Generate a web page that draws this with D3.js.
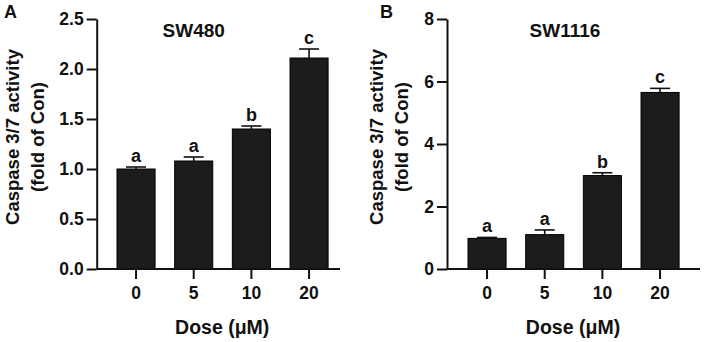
<!DOCTYPE html>
<html>
<head>
<meta charset="utf-8">
<script src="https://cdn.jsdelivr.net/npm/d3@7"></script>
<style>
  body { margin: 0; background: #fff; }
  svg text { font-family: "Liberation Sans", Arial, sans-serif; font-weight: bold; fill: #111; }
  .axis path, .axis line { stroke: #111; stroke-width: 2; }
</style>
</head>
<body>
<svg id="chart" width="706" height="342"></svg>
<script>
const doses = ["0", "5", "10", "20"];
const letters = ["a", "a", "b", "c"];

const sw480Mean = [1.00, 1.08, 1.40, 2.11];
const sw480Err = [0.02, 0.04, 0.03, 0.09];
const sw480Ticks = [0, 0.5, 1.0, 1.5, 2.0, 2.5];

const sw1116Mean = [0.98, 1.10, 2.99, 5.65];
const sw1116Err = [0.03, 0.15, 0.09, 0.13];
const sw1116Ticks = [0, 2, 4, 6, 8];

const svg = d3.select("#chart");

// one panel per cell line
function drawPanel(p) {
	let g = svg.append("g");

	let y = d3.scaleLinear().domain([0, p.yMax]).range([269, 19]);
	let x = d3.scaleBand().domain(doses)
		.range([p.x0, p.x1])
		.paddingInner(0.34)
		.paddingOuter(0.17);

	// bars
	g.selectAll(".bar")
		.data(p.mean)
		.enter()
		.append("rect")
		.attr("class", "bar")
		.attr("x", (d, i) => x(doses[i]))
		.attr("y", d => y(d))
		.attr("width", x.bandwidth())
		.attr("height", d => y(0) - y(d))
		.attr("fill", "#1c1c1c")
		.attr("stroke", "#000")
		.attr("stroke-width", 1);

	// error bars (upper only)
	let capW = 20;
	let err = g.selectAll(".err")
		.data(p.mean)
		.enter()
		.append("g")
		.attr("class", "err")
		.attr("transform", (d, i) => `translate(${x(doses[i]) + x.bandwidth() / 2},0)`);
	err.append("line")
		.attr("y1", d => y(d))
		.attr("y2", (d, i) => y(d + p.err[i]))
		.attr("stroke", "#111").attr("stroke-width", 1.6);
	err.append("line")
		.attr("x1", -capW / 2).attr("x2", capW / 2)
		.attr("y1", (d, i) => y(d + p.err[i]))
		.attr("y2", (d, i) => y(d + p.err[i]))
		.attr("stroke", "#111").attr("stroke-width", 1.6);
	// significance letters
	err.append("text")
		.attr("y", (d, i) => y(d + p.err[i]) - 5)
		.attr("text-anchor", "middle")
		.style("font-size", "18px")
		.text((d, i) => letters[i]);

	// y axis
	g.append("g")
		.attr("class", "axis")
		.attr("transform", `translate(${p.axisX},0)`)
		.call(d3.axisLeft(y).tickValues(p.ticks).tickFormat(p.fmt)
			.tickSize(10).tickSizeOuter(0).tickPadding(3))
		.call(a => a.selectAll("text").style("font-size", "17.5px").attr("fill", "#111"));

	// x axis
	let xAxis = g.append("g")
		.attr("class", "axis")
		.attr("transform", "translate(0,269)")
		.call(d3.axisBottom(x).tickSize(10).tickSizeOuter(0).tickPadding(8));
	xAxis.select(".domain").remove();
	xAxis.selectAll("text").style("font-size", "17.5px").attr("fill", "#111");
	g.append("line")
		.attr("x1", p.axisX).attr("x2", p.axisEnd)
		.attr("y1", 269).attr("y2", 269)
		.attr("stroke", "#111").attr("stroke-width", 2);

	// labels
	g.append("text")
		.attr("x", p.axisX + p.titleDx).attr("y", 37)
		.attr("text-anchor", "middle")
		.style("font-size", "19px")
		.text(p.title);

	g.append("text")
		.attr("x", p.letterX).attr("y", 18)
		.style("font-size", "18px")
		.text(p.letter);

	let yl = g.append("text")
		.attr("transform", `translate(${p.axisX + p.ylabDx},137) rotate(-90)`)
		.attr("text-anchor", "middle")
		.style("font-size", "18.5px");
	yl.append("tspan").attr("x", 0).attr("y", 0).text("Caspase 3/7 activity");
	yl.append("tspan").attr("x", 0).attr("y", 24.5).text("(fold of Con)");

	g.append("text")
		.attr("x", p.axisX + p.doseDx).attr("y", 334)
		.attr("text-anchor", "middle")
		.style("font-size", "19.5px")
		.text("Dose (\u03bcM)");
}

drawPanel({
	title: "SW480", letter: "A", letterX: 4,
	mean: sw480Mean, err: sw480Err, ticks: sw480Ticks, yMax: 2.5, fmt: d3.format(".1f"),
	axisX: 96.7, axisEnd: 340, x0: 107.2, x1: 337.9,
	titleDx: 97, ylabDx: -77.5, doseDx: 125.5
});

drawPanel({
	title: "SW1116", letter: "B", letterX: 380,
	mean: sw1116Mean, err: sw1116Err, ticks: sw1116Ticks, yMax: 8, fmt: d3.format("d"),
	axisX: 447, axisEnd: 700, x0: 458.2, x1: 688.9,
	titleDx: 118, ylabDx: -64, doseDx: 126
});
</script>
</body>
</html>
